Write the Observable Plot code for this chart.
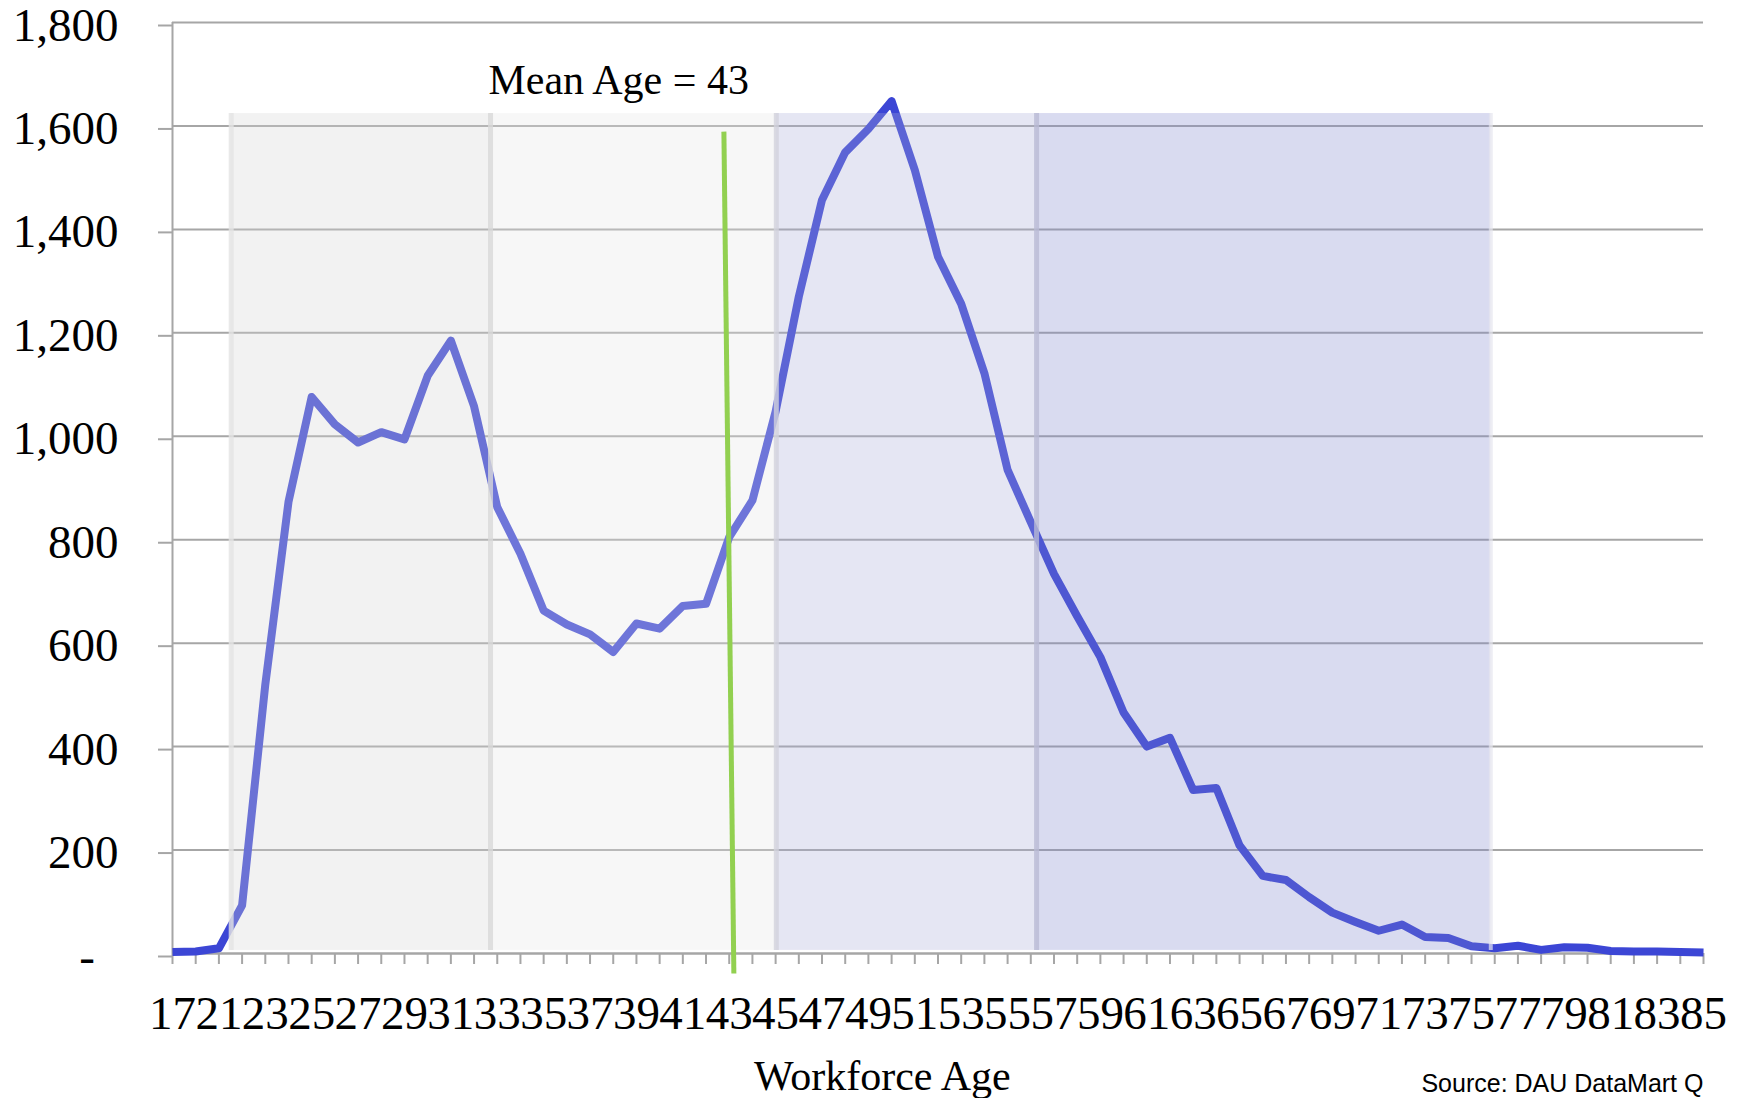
<!DOCTYPE html>
<html><head><meta charset="utf-8">
<script src="https://cdn.jsdelivr.net/npm/d3@7"></script>
<script src="https://cdn.jsdelivr.net/npm/@observablehq/plot@0.6"></script>
<style>html,body{margin:0;padding:0;background:#fff;overflow:hidden}</style>
</head><body><div id="chart"></div>
<script>
// ---- data ----
const ages = [17,20,21,22,23,24,25,26,27,28,29,30,31,32,33,34,35,36,37,38,39,40,41,42,43,44,45,46,47,48,49,50,51,52,53,54,55,56,57,58,59,60,61,62,63,64,65,66,67,68,69,70,71,72,73,74,75,76,77,78,79,80,81,82,83,84,85];
const counts = [3,4,10,93,520,873,1076,1023,988,1008,994,1117,1185,1058,863,773,663,636,617,583,638,628,672,676,805,876,1048,1270,1457,1549,1594,1648,1515,1347,1256,1122,935,834,734,652,573,466,400,417,316,320,209,150,142,109,79,61,44,56,32,30,14,10,15,7,12,11,5,4,4,3,2];
const yTicks = [0,200,400,600,800,1000,1200,1400,1600,1800];
const bandLeft  = [2.53, 13.71, 26.03, 37.25];   // category positions
const bandRight = [13.71, 26.03, 37.25, 56.83];
const bandTop = 1624, bandBottom = 6;
const meanAge = 43;
const meanLabel = "Mean Age = 43";
const xTitle = "Workforce Age";
const source = "Source: DAU DataMart Q";

// ---- build ----
const idx = ages.map((a, i) => i);
const series = ages.map((a, i) => ({i, age: a, n: counts[i]}));
const labelIdx = idx.filter(i => i % 2 === 0);
const meanIdx = ages.indexOf(meanAge);
const bandFills = ["rgb(213,213,213)", "rgb(228,228,228)", "rgb(170,172,214)", "rgb(125,132,205)"];
const bandOps = [0.31, 0.30, 0.30, 0.29];
const bands = bandLeft.map((l, k) => ({l, r: bandRight[k], k}));
const edgeCols = ["#e4e4e4", "#d8d8d8", "#d2d2dc", "#b9bad4"];
const edges = bandLeft.map((l, k) => ({x: l, k}));
const serif = "'Liberation Serif','Times New Roman',serif";
const grid = "#a6a6a6";

const chart = Plot.plot({
  width: 1737, height: 1098,
  marginLeft: 172, marginRight: 34, marginTop: 22, marginBottom: 145,
  style: {fontFamily: serif, background: "#fff", color: "black"},
  x: {type: "linear", domain: [0, ages.length - 1]},
  y: {domain: [0, 1800]},
  marks: [
    Plot.gridY(yTicks, {stroke: grid, strokeOpacity: 1, strokeWidth: 2}),
    Plot.axisY({ticks: yTicks, tickSize: 14, tickPadding: 40, stroke: grid, strokeWidth: 2,
      fill: "black", fontSize: 47, fontFamily: serif, dy: 3, label: null,
      tickFormat: d => d === 0 ? "-\u2007" : d3.format(",")(d)}),
    Plot.axisX({ticks: idx, tickSize: 11, stroke: grid, strokeWidth: 2, tickFormat: () => "", label: null}),
    Plot.axisX({ticks: labelIdx, tickSize: 0, tickPadding: 42, fill: "black", fontSize: 47,
      fontFamily: serif, label: null, tickFormat: i => String(ages[i])}),
    Plot.ruleY([0], {stroke: grid, strokeWidth: 2}),
    Plot.ruleX([0], {y1: 0, y2: 1800, stroke: grid, strokeWidth: 2}),
    Plot.line(series, {x: "i", y: "n", stroke: "#3c46d5", strokeWidth: 8, strokeLinejoin: "round", strokeLinecap: "butt"}),
    Plot.rect(bands, {x1: "l", x2: "r", y1: bandBottom, y2: bandTop,
      fill: d => bandFills[d.k], fillOpacity: d => bandOps[d.k]}),
    Plot.ruleX(edges, {x: "x", y1: bandBottom, y2: bandTop, stroke: d => edgeCols[d.k], strokeWidth: 5, strokeOpacity: 0.8}),
    Plot.ruleX([bandRight[3]], {y1: bandBottom, y2: bandTop, stroke: "#e6e6ee", strokeWidth: 4, strokeOpacity: 0.7}),
    Plot.link([{}], {x1: meanIdx - 0.23, y1: 1589, x2: meanIdx + 0.2, y2: -38.7, stroke: "#92d050", strokeWidth: 5}),
    Plot.text([meanLabel], {x: 13.62, y: 1662, text: d => d, textAnchor: "start", lineAnchor: "bottom",
      fontSize: 42, fontFamily: serif, fill: "black"}),
    Plot.text([xTitle], {x: 30.6, frameAnchor: "bottom", dy: 123, text: d => d, fontSize: 42,
      fontFamily: serif, fill: "black", lineAnchor: "middle"}),
    Plot.text([source], {x: 53.84, frameAnchor: "bottom", dy: 130, text: d => d, textAnchor: "start",
      fontSize: 25, fontFamily: "'Liberation Sans',Arial,sans-serif", fill: "black", lineAnchor: "middle"})
  ]
});
document.getElementById("chart").appendChild(chart);
</script>
</body></html>
